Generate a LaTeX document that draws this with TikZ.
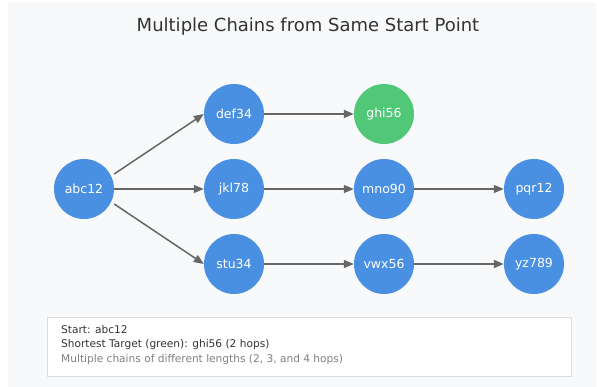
\documentclass[tikz,border=0pt]{standalone}
\usepackage{fontspec}
\setmainfont{DejaVu Sans}
\usepackage{tikz}
\usetikzlibrary{arrows.meta}
\definecolor{panelgray}{HTML}{F8F9FA}
\definecolor{nodeblue}{HTML}{4A90E2}
\definecolor{nodegreen}{HTML}{50C878}
\definecolor{edgegray}{HTML}{666666}
\definecolor{boxline}{HTML}{DDDDDD}
\definecolor{inkgray}{HTML}{333333}
\definecolor{notegray}{HTML}{808080}
\pgfdeclarelayer{bglayer}
\pgfdeclarelayer{edgelayer}
\pgfdeclarelayer{nodelayer}
\pgfsetlayers{bglayer,edgelayer,nodelayer,main}
\tikzstyle{hop}=[circle,fill=nodeblue,draw=none,minimum size=60pt,inner sep=0pt,text=white,font=\fontsize{12.5}{15}\selectfont]
\tikzstyle{target}=[style=hop,fill=nodegreen]
\tikzstyle{link}=[-{Triangle[length=10pt,width=8pt]},draw=edgegray,line width=1.5pt]
\tikzstyle{title}=[text=inkgray,font=\fontsize{18}{22}\selectfont]
\tikzstyle{legend}=[anchor=north west,fill=white,draw=boxline,line width=1pt,minimum width=524pt,minimum height=59pt]
\tikzstyle{note}=[anchor=west,inner sep=0pt,text=inkgray,font=\fontsize{10.6}{13}\selectfont]

\begin{document}
\begin{tikzpicture}[x=1pt,y=-1pt]
	\useasboundingbox (0,0) rectangle (597,387);
	\begin{pgfonlayer}{bglayer}
		\fill [panelgray] (8,2) rectangle (596,387);
	\end{pgfonlayer}
	\begin{pgfonlayer}{nodelayer}
		\node [style=title] (title) at (308,27) {Multiple Chains from Same Start Point};
		\node [style=hop] (abc) at (84,189) {abc12};
		\node [style=hop] (def) at (234,114) {def34};
		\node [style=target] (ghi) at (384,114) {ghi56};
		\node [style=hop] (jkl) at (234,189) {jkl78};
		\node [style=hop] (mno) at (384,189) {mno90};
		\node [style=hop] (pqr) at (534,189) {pqr12};
		\node [style=hop] (stu) at (234,264) {stu34};
		\node [style=hop] (vwx) at (384,264) {vwx56};
		\node [style=hop] (yz) at (534,264) {yz789};
		% legend box
		\node [style=legend] (legend) at (47,317) {};
		\node [style=note] (start) at (61,330) {Start: abc12};
		\node [style=note] (short) at (61,345) {Shortest Target (green): ghi56 (2 hops)};
		\node [style=note,text=notegray] (lengths) at (61,360) {Multiple chains of different lengths (2, 3, and 4 hops)};
	\end{pgfonlayer}
	\begin{pgfonlayer}{edgelayer}
		\draw [style=link] ([yshift=15pt]abc.east) to (def.west);
		\draw [style=link] (abc.east) to (jkl.west);
		\draw [style=link] ([yshift=-15pt]abc.east) to (stu.west);
		\draw [style=link] (def) to (ghi);
		\draw [style=link] (jkl) to (mno);
		\draw [style=link] (mno) to (pqr);
		\draw [style=link] (stu) to (vwx);
		\draw [style=link] (vwx) to (yz);
	\end{pgfonlayer}
\end{tikzpicture}
\end{document}
